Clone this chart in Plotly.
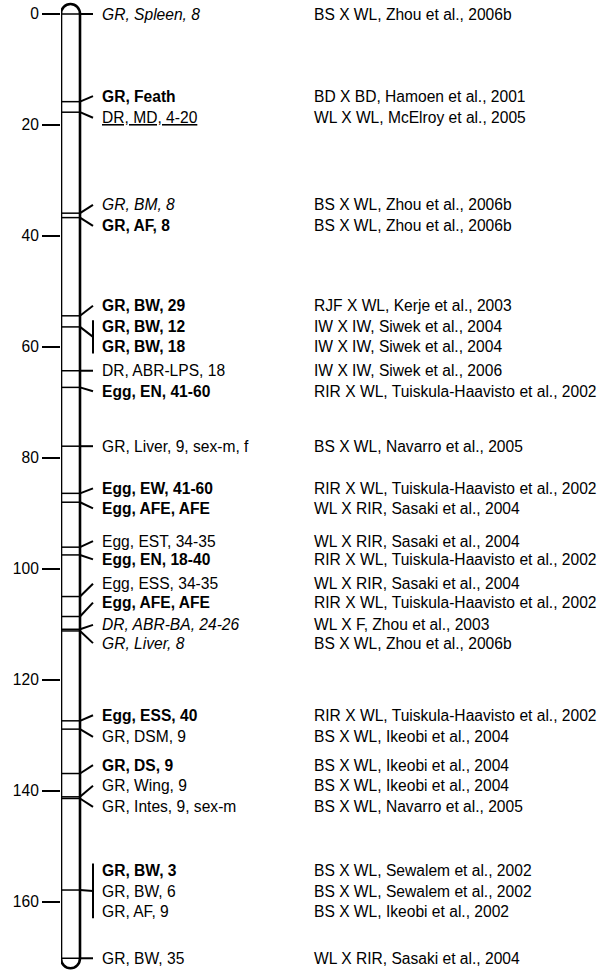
import plotly.graph_objects as go

# ---------------- data ----------------
# QTL labels (trait text), their style, map position (cM) and the cited cross/reference
qtl_labels = [
    "GR, Spleen, 8", "GR, Feath", "DR, MD, 4-20", "GR, BM, 8", "GR, AF, 8",
    "GR, BW, 29", "GR, BW, 12", "GR, BW, 18", "DR, ABR-LPS, 18", "Egg, EN, 41-60",
    "GR, Liver, 9, sex-m, f", "Egg, EW, 41-60", "Egg, AFE, AFE", "Egg, EST, 34-35",
    "Egg, EN, 18-40", "Egg, ESS, 34-35", "Egg, AFE, AFE", "DR, ABR-BA, 24-26",
    "GR, Liver, 8", "Egg, ESS, 40", "GR, DSM, 9", "GR, DS, 9", "GR, Wing, 9",
    "GR, Intes, 9, sex-m", "GR, BW, 3", "GR, BW, 6", "GR, AF, 9", "GR, BW, 35",
]
qtl_styles = [
    "i", "b", "u", "i", "b",
    "b", "b", "b", "n", "b",
    "n", "b", "b", "n",
    "b", "n", "b", "i",
    "i", "b", "n", "b", "n",
    "n", "b", "n", "n", "n",
]
# marker position on chromosome (cM); labels sharing a position are bracketed
qtl_pos_cM = [
    0.0, 15.8, 17.7, 35.9, 36.7,
    54.4, 56.4, 56.4, 64.3, 67.3,
    77.9, 86.4, 88.0, 96.1,
    97.5, 105.0, 108.6, 110.9,
    111.2, 127.4, 128.9, 136.9, 141.1,
    141.4, 157.9, 157.9, 157.9, 170.2,
]
# where each label text sits along the axis (cM), spread to avoid overlap
label_y_cM = [
    0.0, 14.8, 18.7, 34.4, 38.2,
    52.6, 56.4, 60.0, 64.3, 68.0,
    77.9, 85.5, 89.1, 95.0,
    98.3, 102.7, 106.1, 110.1,
    113.4, 126.4, 130.3, 135.4, 139.1,
    142.9, 154.3, 158.1, 161.8, 170.2,
]
references = [
    "BS X WL, Zhou et al., 2006b", "BD X BD, Hamoen et al., 2001",
    "WL X WL, McElroy et al., 2005", "BS X WL, Zhou et al., 2006b",
    "BS X WL, Zhou et al., 2006b", "RJF X WL, Kerje et al., 2003",
    "IW X IW, Siwek et al., 2004", "IW X IW, Siwek et al., 2004",
    "IW X IW, Siwek et al., 2006", "RIR X WL, Tuiskula-Haavisto et al., 2002",
    "BS X WL, Navarro et al., 2005", "RIR X WL, Tuiskula-Haavisto et al., 2002",
    "WL X RIR, Sasaki et al., 2004", "WL X RIR, Sasaki et al., 2004",
    "RIR X WL, Tuiskula-Haavisto et al., 2002", "WL X RIR, Sasaki et al., 2004",
    "RIR X WL, Tuiskula-Haavisto et al., 2002", "WL X F, Zhou et al., 2003",
    "BS X WL, Zhou et al., 2006b", "RIR X WL, Tuiskula-Haavisto et al., 2002",
    "BS X WL, Ikeobi et al., 2004", "BS X WL, Ikeobi et al., 2004",
    "BS X WL, Ikeobi et al., 2004", "BS X WL, Navarro et al., 2005",
    "BS X WL, Sewalem et al., 2002", "BS X WL, Sewalem et al., 2002",
    "BS X WL, Ikeobi et al., 2002", "WL X RIR, Sasaki et al., 2004",
]
axis_ticks = [0, 20, 40, 60, 80, 100, 120, 140, 160]
chrom_length_cM = 170.2

# ---------------- layout constants (pixel-like x units) ----------------
W, H = 608, 970
X_L, X_R = 61, 80          # chromosome edges
X_BR = 93                  # connector end / bracket x
X_LAB = 100                # label start
X_REF = 312                # reference column start
Y0_PX, PX_PER_CM = 14, 5.548
y_top = -Y0_PX / PX_PER_CM
y_bot = (H - Y0_PX) / PX_PER_CM
FONT = "Liberation Sans, Arial, Helvetica, sans-serif"
FS = 15.6
CAP = 10 / PX_PER_CM       # end-cap height in cM

fig = go.Figure()

# marker lines across the chromosome
mx, my = [], []
for p in sorted(set(qtl_pos_cM)):
    mx += [X_L, X_R, None]
    my += [p, p, None]
fig.add_trace(go.Scatter(x=mx, y=my, mode="lines", line=dict(color="black", width=1.5),
                         hoverinfo="skip", showlegend=False))

# connectors and brackets
cx, cy = [], []
groups = {}
for i, p in enumerate(qtl_pos_cM):
    groups.setdefault(p, []).append(i)
for p, idx in groups.items():
    ys = [label_y_cM[i] for i in idx]
    target = sum(ys) / len(ys)
    cx += [X_R, X_BR, None]
    cy += [p, target, None]
    if len(idx) > 1:
        cx += [X_BR, X_BR, None]
        cy += [min(ys) - 1.2, max(ys) + 1.2, None]
fig.add_trace(go.Scatter(x=cx, y=cy, mode="lines", line=dict(color="black", width=2),
                         hoverinfo="skip", showlegend=False))

# chromosome outline with rounded ends (bezier quarter arcs)
rx = (X_R - X_L) / 2
xc = (X_L + X_R) / 2
k = 0.5523
top, bot = 0.0, chrom_length_cM
path = (
    f"M {X_L},{top} "
    f"C {X_L},{top - k*CAP} {xc - k*rx},{top - CAP} {xc},{top - CAP} "
    f"C {xc + k*rx},{top - CAP} {X_R},{top - k*CAP} {X_R},{top} "
    f"L {X_R},{bot} "
    f"C {X_R},{bot + k*CAP} {xc + k*rx},{bot + CAP} {xc},{bot + CAP} "
    f"C {xc - k*rx},{bot + CAP} {X_L},{bot + k*CAP} {X_L},{bot} Z"
)
fig.add_shape(type="path", path=path, xref="x", yref="y",
              line=dict(color="black", width=2.6), fillcolor="rgba(0,0,0,0)")

# labels
for i, (txt, st) in enumerate(zip(qtl_labels, qtl_styles)):
    font = dict(family=FONT, size=FS, color="black")
    if st == "b":
        font["weight"] = "bold"
    elif st == "i":
        font["style"] = "italic"
    elif st == "u":
        font["lineposition"] = "under"
    fig.add_annotation(x=X_LAB, y=label_y_cM[i], text=txt, showarrow=False,
                       xanchor="left", yanchor="middle", font=font)
    fig.add_annotation(x=X_REF, y=label_y_cM[i], text=references[i], showarrow=False,
                       xanchor="left", yanchor="middle",
                       font=dict(family=FONT, size=FS, color="black"))

fig.update_layout(
    width=W, height=H, margin=dict(l=X_L, r=0, t=0, b=0, pad=0),
    paper_bgcolor="white", plot_bgcolor="white", showlegend=False,
    xaxis=dict(range=[X_L, W], visible=False, fixedrange=True),
    yaxis=dict(range=[y_bot, y_top], tickvals=axis_ticks, ticks="outside",
               ticklen=18, tickwidth=2, tickcolor="black", showgrid=False,
               zeroline=False, showline=False, automargin=False, fixedrange=True,
               tickfont=dict(family=FONT, size=FS, color="black")),
)

fig.write_html("out.html", config={"displayModeBar": False},
               post_script="document.body.style.margin='0';document.body.style.overflow='hidden';")
